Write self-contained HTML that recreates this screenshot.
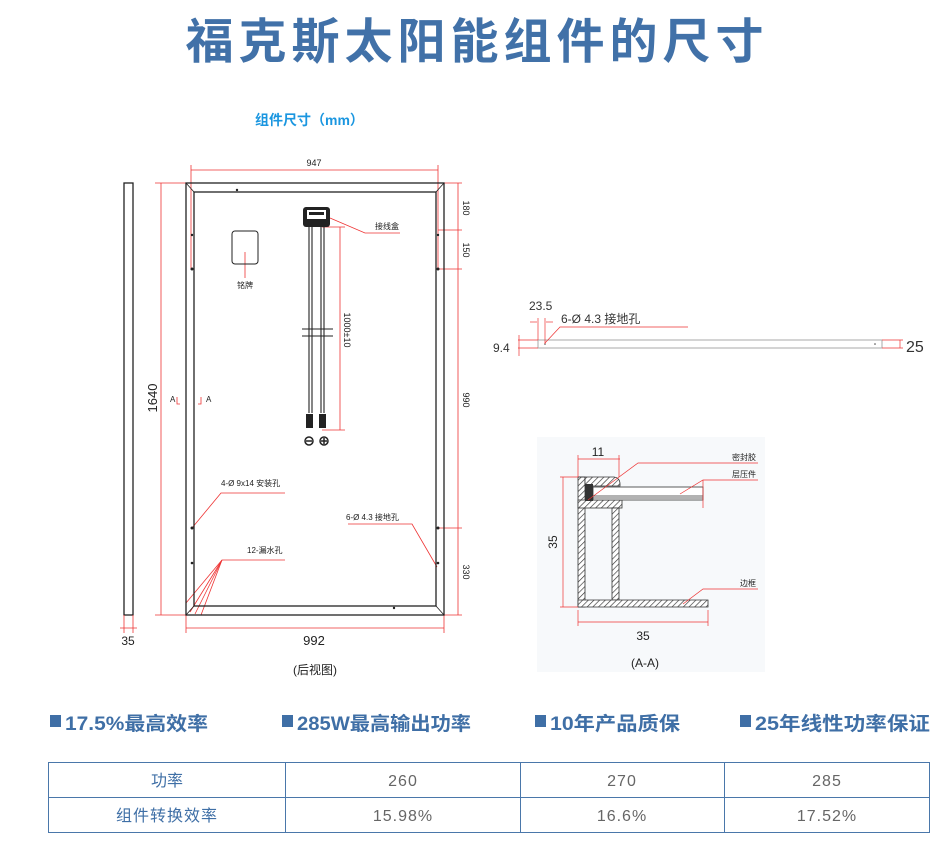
<!DOCTYPE html>
<html><head><meta charset="utf-8"><style>
html,body{margin:0;padding:0;background:#fff;}
svg{display:block;}
.cn{font-family:"Liberation Sans","Noto Sans CJK SC",sans-serif;}
</style></head><body>
<svg width="950" height="858" viewBox="0 0 950 858" xmlns="http://www.w3.org/2000/svg" class="cn">
<defs>
<pattern id="h" width="4" height="4" patternUnits="userSpaceOnUse" patternTransform="rotate(45)">
<rect width="4" height="4" fill="#fff"/><line x1="0" y1="0" x2="0" y2="4" stroke="#333" stroke-width="1.3"/></pattern>
</defs>
<text x="477" y="58" text-anchor="middle" font-size="48" font-weight="bold" fill="#4171a8" letter-spacing="5" font-family="Liberation Sans,Noto Sans CJK SC,sans-serif">福克斯太阳能组件的尺寸</text>
<text x="255" y="125" font-size="14" font-weight="bold" fill="#1a96e0">组件尺寸（mm）</text>

<!-- side view -->
<rect x="124" y="183" width="9" height="432" fill="none" stroke="#222" stroke-width="1.3"/>
<g stroke="#e33" stroke-width="0.8" fill="none">
<line x1="124" y1="615" x2="124" y2="633"/><line x1="133" y1="615" x2="133" y2="633"/><line x1="120" y1="628" x2="137" y2="628"/>
<line x1="161" y1="183" x2="161" y2="615"/><line x1="155" y1="183" x2="186" y2="183"/><line x1="155" y1="615" x2="186" y2="615"/>
<line x1="191" y1="170" x2="438" y2="170"/><line x1="191" y1="165" x2="191" y2="270"/><line x1="438" y1="165" x2="438" y2="270"/>
<line x1="186" y1="628" x2="444" y2="628"/><line x1="186" y1="615" x2="186" y2="633"/><line x1="444" y1="615" x2="444" y2="633"/>
<line x1="458" y1="183" x2="458" y2="615"/>
<line x1="444" y1="183" x2="462" y2="183"/><line x1="438" y1="230" x2="462" y2="230"/><line x1="438" y1="269" x2="462" y2="269"/><line x1="438" y1="528" x2="462" y2="528"/><line x1="444" y1="615" x2="462" y2="615"/>
<line x1="340" y1="227" x2="340" y2="430"/><line x1="322" y1="227" x2="345" y2="227"/><line x1="322" y1="430" x2="345" y2="430"/>
<polyline points="330,218 365,233 400,233"/>
<line x1="245" y1="252" x2="245" y2="278"/>
<polyline points="192,528 221,493 285,493"/>
<polyline points="222,560 285,560"/>
<line x1="222" y1="560" x2="186" y2="603"/><line x1="222" y1="560" x2="190" y2="612"/><line x1="222" y1="560" x2="195" y2="614"/><line x1="222" y1="560" x2="201" y2="615"/>
<polyline points="348,524 412,524 437,567"/>
<polyline points="177,397 177,404 180,404"/><polyline points="201,397 201,404 198,404"/>
</g>
<text x="157" y="398" font-size="13" fill="#222" text-anchor="middle" transform="rotate(-90 157 398)">1640</text>
<text x="314" y="166" font-size="9" fill="#222" text-anchor="middle">947</text>
<text x="314" y="645" font-size="13" fill="#222" text-anchor="middle">992</text>
<text x="128" y="645" font-size="12" fill="#222" text-anchor="middle">35</text>
<g font-size="9" fill="#222">
<text x="463" y="208" transform="rotate(90 463 208)" text-anchor="middle">180</text>
<text x="463" y="250" transform="rotate(90 463 250)" text-anchor="middle">150</text>
<text x="463" y="400" transform="rotate(90 463 400)" text-anchor="middle">990</text>
<text x="463" y="572" transform="rotate(90 463 572)" text-anchor="middle">330</text>
<text x="344" y="330" transform="rotate(90 344 330)" text-anchor="middle">1000±10</text>
<text x="375" y="229" font-size="8">接线盒</text>
<text x="245" y="288" font-size="8" text-anchor="middle">铭牌</text>
<text x="170" y="402" font-size="8">A</text><text x="206" y="402" font-size="8">A</text>
<text x="221" y="486" font-size="8">4-Ø 9x14 安装孔</text>
<text x="247" y="553" font-size="8">12-漏水孔</text>
<text x="346" y="520" font-size="8">6-Ø 4.3 接地孔</text>
</g>
<rect x="186" y="183" width="258" height="432" fill="none" stroke="#222" stroke-width="1.3"/>
<rect x="194" y="192" width="242" height="414" fill="none" stroke="#222" stroke-width="1.3"/>
<g stroke="#222" stroke-width="0.8"><line x1="186" y1="183" x2="194" y2="192"/><line x1="444" y1="183" x2="436" y2="192"/><line x1="186" y1="615" x2="194" y2="606"/><line x1="444" y1="615" x2="436" y2="606"/></g>
<g fill="#222"><circle cx="192" cy="269" r="1.5"/><circle cx="438" cy="269" r="1.5"/><circle cx="192" cy="528" r="1.5"/><circle cx="438" cy="528" r="1.5"/><circle cx="192" cy="563" r="1.3"/><circle cx="438" cy="563" r="1.3"/><circle cx="192" cy="235" r="1.2"/><circle cx="438" cy="235" r="1.2"/><circle cx="237" cy="190" r="1.2"/><circle cx="394" cy="608" r="1.2"/></g>
<rect x="232" y="231" width="26" height="33" rx="3" fill="none" stroke="#222" stroke-width="1"/>
<rect x="303" y="207" width="27" height="20" rx="3" fill="#222"/>
<rect x="307" y="210" width="19" height="9" fill="#fff"/><rect x="309" y="212" width="15" height="3" fill="#222"/>
<g stroke="#222" stroke-width="1.1" fill="none">
<line x1="309" y1="227" x2="309" y2="413"/><line x1="312" y1="227" x2="312" y2="413"/>
<line x1="321" y1="227" x2="321" y2="413"/><line x1="324" y1="227" x2="324" y2="413"/>
<line x1="302" y1="329" x2="333" y2="329"/><line x1="302" y1="336" x2="333" y2="336"/>
</g>
<rect x="306" y="414" width="7" height="14" fill="#222"/><rect x="319" y="414" width="7" height="14" fill="#222"/>
<circle cx="309" cy="441" r="4" fill="none" stroke="#222" stroke-width="1.5"/><line x1="306" y1="441" x2="312" y2="441" stroke="#222" stroke-width="1.5"/>
<circle cx="324" cy="441" r="4" fill="none" stroke="#222" stroke-width="1.5"/><line x1="321" y1="441" x2="327" y2="441" stroke="#222" stroke-width="1.5"/><line x1="324" y1="438" x2="324" y2="444" stroke="#222" stroke-width="1.5"/>
<text x="315" y="674" font-size="12" fill="#222" text-anchor="middle">(后视图)</text>

<rect x="538" y="340" width="344" height="8" fill="none" stroke="#aaa" stroke-width="1"/>
<circle cx="545" cy="344" r="0.8" fill="#444"/><circle cx="875" cy="344" r="0.8" fill="#444"/>
<g stroke="#e33" stroke-width="0.7" fill="none">
<line x1="538" y1="318" x2="538" y2="340"/><line x1="545" y1="318" x2="545" y2="344"/>
<line x1="530" y1="322" x2="537" y2="322"/><line x1="546" y1="322" x2="553" y2="322"/>
<polyline points="545,343 560,327 688,327"/>
<line x1="518" y1="340" x2="538" y2="340"/><line x1="518" y1="348" x2="538" y2="348"/><line x1="519" y1="335" x2="519" y2="356"/>
<line x1="882" y1="340" x2="903" y2="340"/><line x1="882" y1="348" x2="903" y2="348"/><line x1="900" y1="340" x2="900" y2="348"/>
</g>
<text x="529" y="310" font-size="12" fill="#333">23.5</text>
<text x="561" y="323" font-size="12" fill="#333">6-Ø 4.3 接地孔</text>
<text x="493" y="352" font-size="12" fill="#333">9.4</text>
<text x="906" y="352" font-size="16" fill="#333">25</text>

<rect x="537" y="437" width="228" height="235" fill="#f7f9fb"/>
<rect x="578" y="477" width="7" height="130" fill="url(#h)" stroke="#333" stroke-width="0.8"/>
<path d="M578,477 H614 Q620,478 620,484 V486 H585 V477 Z" fill="url(#h)" stroke="#333" stroke-width="0.8"/>
<rect x="578" y="500" width="44" height="8" fill="url(#h)" stroke="#333" stroke-width="0.8"/>
<rect x="612" y="508" width="7" height="92" fill="url(#h)" stroke="#333" stroke-width="0.8"/>
<path d="M578,600 H708 V607 H578 Z" fill="url(#h)" stroke="#333" stroke-width="0.8"/>
<rect x="585" y="484" width="8" height="17" fill="#333"/>
<rect x="593" y="487" width="110" height="13" fill="#fff" stroke="#333" stroke-width="0.8"/>
<line x1="593" y1="496" x2="703" y2="496" stroke="#333" stroke-width="0.8"/><line x1="593" y1="498" x2="703" y2="498" stroke="#333" stroke-width="0.8"/>
<g stroke="#e33" stroke-width="0.7" fill="none">
<line x1="578" y1="459" x2="620" y2="459"/><line x1="578" y1="455" x2="578" y2="477"/><line x1="619" y1="455" x2="619" y2="477"/>
<line x1="563" y1="477" x2="563" y2="607"/><line x1="560" y1="477" x2="578" y2="477"/><line x1="560" y1="607" x2="578" y2="607"/>
<line x1="578" y1="622" x2="708" y2="622"/><line x1="578" y1="610" x2="578" y2="626"/><line x1="708" y1="610" x2="708" y2="626"/>
<polyline points="588,500 638,463 758,463"/>
<polyline points="680,494 703,480 758,480"/><line x1="703" y1="480" x2="703" y2="508"/>
<polyline points="683,604 703,589 758,589"/>
</g>
<text x="598" y="456" font-size="12" fill="#222" text-anchor="middle">11</text>
<text x="557" y="542" font-size="12" fill="#222" text-anchor="middle" transform="rotate(-90 557 542)">35</text>
<text x="643" y="640" font-size="12" fill="#222" text-anchor="middle">35</text>
<text x="645" y="667" font-size="12" fill="#222" text-anchor="middle">(A-A)</text>
<text x="756" y="460" font-size="8" fill="#222" text-anchor="end">密封胶</text>
<text x="756" y="477" font-size="8" fill="#222" text-anchor="end">层压件</text>
<text x="756" y="586" font-size="8" fill="#222" text-anchor="end">边框</text>

<g fill="#3f6fa6" font-size="19" font-weight="bold">
<rect x="50" y="715" width="11" height="12"/><text x="65" y="730" textLength="143" lengthAdjust="spacingAndGlyphs">17.5%最高效率</text>
<rect x="282" y="715" width="11" height="12"/><text x="297" y="730" textLength="174" lengthAdjust="spacingAndGlyphs">285W最高输出功率</text>
<rect x="535" y="715" width="11" height="12"/><text x="550" y="730" textLength="130" lengthAdjust="spacingAndGlyphs">10年产品质保</text>
<rect x="740" y="715" width="11" height="12"/><text x="755" y="730" textLength="175" lengthAdjust="spacingAndGlyphs">25年线性功率保证</text>
</g>
<g stroke="#4a77aa" stroke-width="1" fill="none">
<rect x="48.5" y="762.5" width="881" height="70"/>
<line x1="48" y1="797.5" x2="930" y2="797.5"/>
<line x1="285.5" y1="762" x2="285.5" y2="833"/><line x1="520.5" y1="762" x2="520.5" y2="833"/><line x1="724.5" y1="762" x2="724.5" y2="833"/>
</g>
<g font-size="16" text-anchor="middle">
<text x="167" y="786" fill="#3f6fa6">功率</text>
<text x="167" y="821" fill="#3f6fa6" letter-spacing="1">组件转换效率</text>
<g fill="#666" letter-spacing="1">
<text x="403" y="786">260</text><text x="622" y="786">270</text><text x="827" y="786">285</text>
<text x="403" y="821">15.98%</text><text x="622" y="821">16.6%</text><text x="827" y="821">17.52%</text>
</g></g>
</svg>
</body></html>
